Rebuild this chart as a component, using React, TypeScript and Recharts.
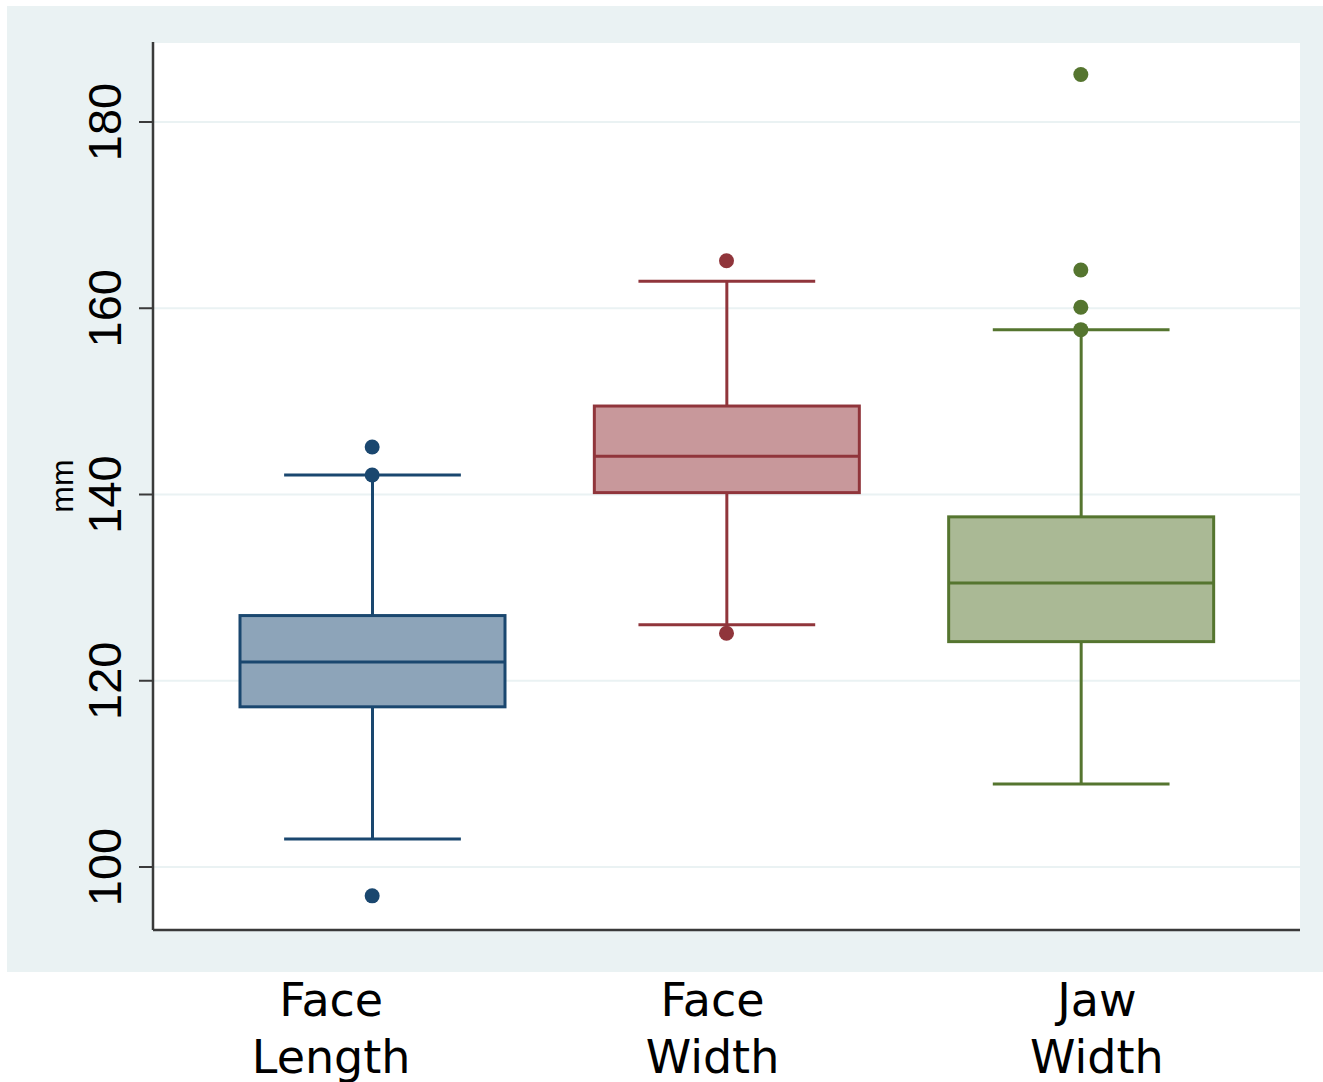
import { ComposedChart, Bar, Scatter, XAxis, YAxis, CartesianGrid } from "recharts";

// box plot summary (mm)
const categories = ["Face Length", "Face Width", "Jaw Width"];
const whiskerLow = [103.0, 126.0, 108.9];
const q1 = [117.2, 140.2, 124.2];
const median = [122.0, 144.1, 130.5];
const q3 = [127.0, 149.5, 137.6];
const whiskerHigh = [142.1, 162.9, 157.7];

const outliersFaceLength = [145.1, 142.1, 96.9];
const outliersFaceWidth = [165.1, 125.1];
const outliersJawWidth = [185.1, 164.1, 160.1, 157.7];

const yTicks = [100, 120, 140, 160, 180];

const strokeColors = ["#1a476f", "#90353b", "#55752f"];
const fillColors = ["#8da4b9", "#c8989b", "#aab995"];
// the category labels sit a little off the box centres in the original
const labelShift = [-41, -14, 16];

const boxData = categories.map((name, i) => ({
  name,
  whisker: [whiskerLow[i], whiskerHigh[i]],
  q1: q1[i],
  median: median[i],
  q3: q3[i],
}));

const outlierSets = [outliersFaceLength, outliersFaceWidth, outliersJawWidth].map((vals, i) =>
  vals.map((value) => ({ name: categories[i], value }))
);

function BoxShape(props: any) {
  const { x, y, width, height, payload } = props;
  const i = categories.indexOf(payload.name);
  const [lo, hi] = payload.whisker;
  const top = Math.min(y, y + height);
  const h = Math.abs(height);
  const toY = (v: number) => top + ((hi - v) / (hi - lo)) * h;
  const cx = x + width / 2;
  const cap = width * 0.667;
  const stroke = strokeColors[i];
  const yq1 = toY(payload.q1);
  const yq3 = toY(payload.q3);
  const ymed = toY(payload.median);
  const yLo = toY(lo);
  const yHi = toY(hi);
  return (
    <g>
      <line x1={cx} x2={cx} y1={yHi} y2={yq3} stroke={stroke} strokeWidth={3} />
      <line x1={cx} x2={cx} y1={yq1} y2={yLo} stroke={stroke} strokeWidth={3} />
      <line x1={cx - cap / 2} x2={cx + cap / 2} y1={yHi} y2={yHi} stroke={stroke} strokeWidth={3} />
      <line x1={cx - cap / 2} x2={cx + cap / 2} y1={yLo} y2={yLo} stroke={stroke} strokeWidth={3} />
      <rect x={x} y={yq3} width={width} height={yq1 - yq3} fill={fillColors[i]} stroke={stroke} strokeWidth={3} />
      <line x1={x} x2={x + width} y1={ymed} y2={ymed} stroke={stroke} strokeWidth={3} />
    </g>
  );
}

function YTick(props: any) {
  const { x, y, payload } = props;
  return (
    <text
      x={x}
      y={y}
      transform={`rotate(-90, ${x}, ${y})`}
      textAnchor="middle"
      fontSize={47}
      fontFamily="'Liberation Sans', Arial, sans-serif"
      fill="#000"
    >
      {payload.value}
    </text>
  );
}

function XTick(props: any) {
  const { x, y, payload, index } = props;
  const words = String(payload.value).split(" ");
  const cx = x + labelShift[index];
  return (
    <text
      x={cx}
      y={y}
      textAnchor="middle"
      fontSize={46}
      fontFamily="'DejaVu Sans', Verdana, sans-serif"
      fill="#000"
    >
      <tspan x={cx} dy={86}>{words[0]}</tspan>
      <tspan x={cx} dy={57}>{words[1]}</tspan>
    </text>
  );
}

function MmLabel(props: any) {
  const { viewBox } = props;
  const ly = viewBox.y + viewBox.height / 2;
  const lx = 73;
  return (
    <text
      x={lx}
      y={ly}
      transform={`rotate(-90, ${lx}, ${ly})`}
      textAnchor="middle"
      fontSize={32}
      fontFamily="'Liberation Sans', Arial, sans-serif"
      fill="#000"
    >
      mm
    </text>
  );
}

export default function App() {
  return (
    <div style={{ position: "absolute", left: 0, top: 0, width: 1323, height: 1082, background: "#fff" }}>
      <div
        style={{ position: "absolute", left: 7, top: 6, width: 1316, height: 966, background: "#eaf2f3" }}
      />
      <div style={{ position: "absolute", left: 0, top: 0 }}>
        <ComposedChart
          width={1323}
          height={1082}
          data={boxData}
          margin={{ top: 42, right: 23, bottom: 0, left: 0 }}
        >
          <CartesianGrid vertical={false} stroke="#eaf2f3" strokeWidth={2} fill="#ffffff" />
          <XAxis
            dataKey="name"
            type="category"
            allowDuplicatedCategory={false}
            padding={{ left: 42, right: 42 }}
            height={152}
            tickLine={false}
            tickSize={0}
            tickMargin={0}
            axisLine={{ stroke: "#3a3a3a", strokeWidth: 2.5 }}
            tick={<XTick />}
            interval={0}
          />
          <YAxis
            type="number"
            domain={[93.235, 188.59]}
            allowDataOverflow
            ticks={yTicks}
            width={153}
            tickSize={14}
            tickMargin={18}
            axisLine={{ stroke: "#3a3a3a", strokeWidth: 2.5 }}
            tickLine={{ stroke: "#3a3a3a", strokeWidth: 2 }}
            tick={<YTick />}
            label={<MmLabel />}
          />
          <Bar dataKey="whisker" barSize={265} shape={<BoxShape />} isAnimationActive={false} />
          {outlierSets.map((set, i) => (
            <Scatter
              key={categories[i]}
              data={set}
              dataKey="value"
              isAnimationActive={false}
              shape={(p: any) => <circle cx={p.cx} cy={p.cy} r={7.5} fill={strokeColors[i]} />}
            />
          ))}
        </ComposedChart>
      </div>
    </div>
  );
}
